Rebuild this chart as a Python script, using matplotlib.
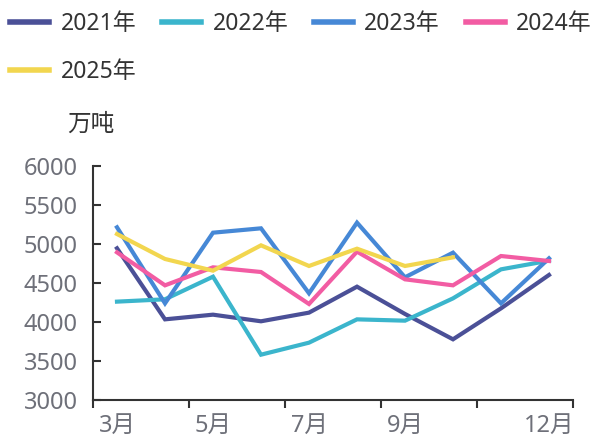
import matplotlib
matplotlib.use('Agg')
import matplotlib.pyplot as plt
import numpy as np

plt.rcParams['font.family'] = ['Noto Sans', 'Noto Sans CJK SC', 'DejaVu Sans']

months = ['3月', '4月', '5月', '6月', '7月', '8月', '9月', '10月', '11月', '12月']

y2021 = [4945, 4034, 4094, 4009, 4120, 4453, 4103, 3778, 4175, 4603]
y2022 = [4261, 4291, 4581, 3581, 3735, 4034, 4017, 4303, 4675, 4786]
y2023 = [5214, 4239, 5145, 5201, 4368, 5274, 4573, 4889, 4239, 4816]
y2024 = [4893, 4470, 4701, 4641, 4231, 4902, 4547, 4470, 4846, 4782]
y2025 = [5128, 4808, 4658, 4983, 4718, 4940, 4718, 4829]

series = [
    ('2021年', y2021, '#4b5097'),
    ('2022年', y2022, '#3bb5cc'),
    ('2023年', y2023, '#4688d6'),
    ('2024年', y2024, '#f25ca3'),
    ('2025年', y2025, '#f2d64f'),
]

FS = 17

fig = plt.figure(figsize=(5.95, 4.37), dpi=100)
ax = fig.add_axes([93 / 595, 1 - 400 / 437, 480 / 595, 234 / 437])

handles = {}
for name, vals, color in series:
    x = np.arange(len(vals))
    line, = ax.plot(x, vals, color=color, lw=3, label=name, solid_joinstyle='miter')
    handles[name] = line

ax.set_xlim(-0.5, len(months) - 0.5)
ax.set_ylim(3000, 6000)
ax.set_yticks(np.arange(3000, 6001, 500))

# ticks on category boundaries, labels at category centres
ax.set_xticks(np.arange(-0.5, len(months), 2))
ax.set_xticklabels([])
label_pos = [0, 2, 4, 6, 9]
ax.set_xticks(label_pos, minor=True)
ax.set_xticklabels([months[i] for i in label_pos], minor=True)

ax.tick_params(axis='x', which='major', direction='out', length=6, width=1.5, color='#333333')
ax.tick_params(axis='x', which='minor', length=0, pad=10, labelsize=FS, labelcolor='#6e7079')
ax.tick_params(axis='y', direction='in', length=6, width=1.5, color='#333333',
               pad=11, labelsize=FS, labelcolor='#6e7079')

for side in ['top', 'right']:
    ax.spines[side].set_visible(False)
for side in ['left', 'bottom']:
    ax.spines[side].set_linewidth(1.5)
    ax.spines[side].set_color('#333333')

fig.text(91 / 595, 1 - 125 / 437, '万吨', ha='center', va='center', fontsize=FS, color='#333333')

order = ['2021年', '2025年', '2022年', '2023年', '2024年']
leg = fig.legend([handles[k] for k in order], order, loc='upper left',
                 bbox_to_anchor=(0.0, 1 - 2 / 437), ncol=4, frameon=False, fontsize=16.5,
                 handlelength=1.7, handletextpad=0.5, columnspacing=1.12,
                 labelspacing=1.05, borderpad=0.0, borderaxespad=0.45,
                 labelcolor='#333333')
for lh in leg.get_lines():
    lh.set_linewidth(4)

fig.savefig('out.png', dpi=100)
